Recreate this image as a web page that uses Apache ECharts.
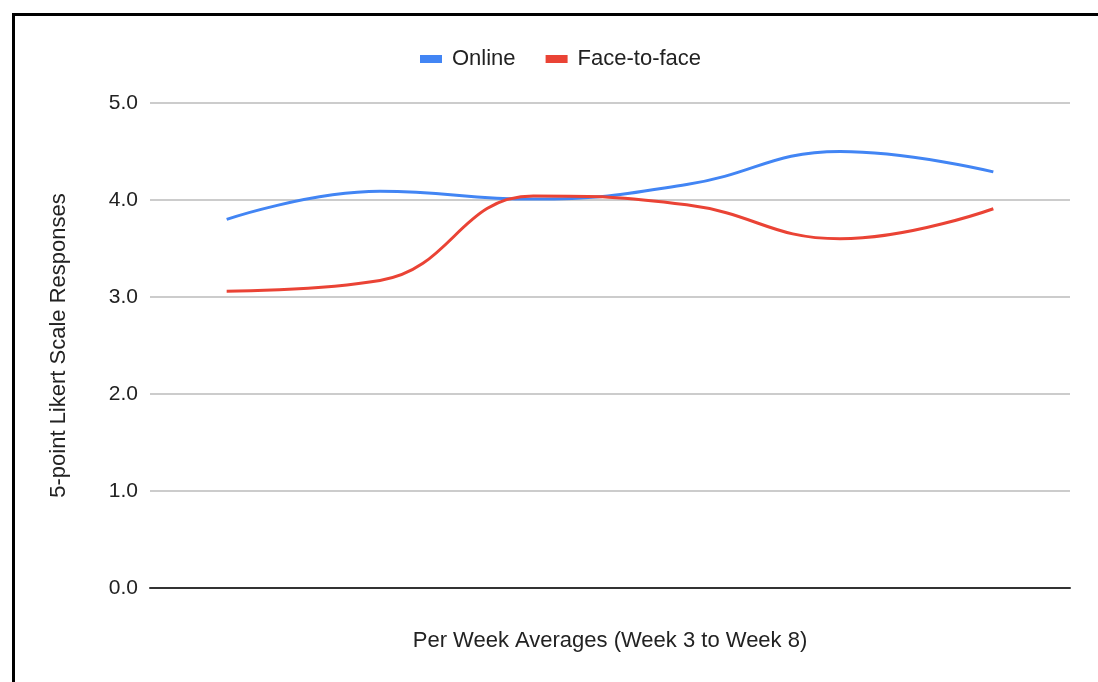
<!DOCTYPE html>
<html>
<head>
<meta charset="utf-8">
<script src="https://cdn.jsdelivr.net/npm/echarts@6/dist/echarts.min.js"></script>
<style>
	html, body { margin: 0; padding: 0; background: #fff; overflow: hidden; }
	#frame { position: absolute; left: 12px; top: 13px; width: 1200px; height: 800px; border-left: 3px solid #000; border-top: 3px solid #000; }
	#chart { position: absolute; left: 0; top: 0; width: 1098px; height: 682px; }
</style>
</head>
<body>
<div id="frame"></div>
<div id="chart"></div>
<script>
	// weeks 3..8
	var weeks = ['Week 3', 'Week 4', 'Week 5', 'Week 6', 'Week 7', 'Week 8'];
	var online = [3.80, 4.09, 4.01, 4.16, 4.50, 4.29];
	var faceToFace = [3.06, 3.17, 4.04, 3.95, 3.60, 3.91];
	var yTicks = [0, 1, 2, 3, 4, 5];

	var chart = echarts.init(document.getElementById('chart'));
	var font = 'Liberation Sans, Arial, sans-serif';

	var option = {
		animation: false,
		textStyle: { fontFamily: font },
		legend: {
			left: 415,
			top: 43,
			itemWidth: 22,
			itemHeight: 8,
			itemGap: 30,
			icon: 'rect',
			textStyle: { fontSize: 22, color: '#222', fontFamily: font, padding: [0, 0, 0, 5] },
			data: ['Online', 'Face-to-face']
		},
		grid: { left: 150, right: 28, top: 103, bottom: 94 },
		xAxis: {
			type: 'category',
			data: weeks,
			boundaryGap: true,
			name: 'Per Week Averages (Week 3 to Week 8)',
			nameLocation: 'middle',
			nameGap: 42,
			nameTextStyle: { fontSize: 22, color: '#222', fontFamily: font },
			axisLine: { lineStyle: { color: '#333', width: 2 } },
			axisTick: { show: false },
			axisLabel: { show: false }
		},
		yAxis: {
			type: 'value',
			min: yTicks[0],
			max: yTicks[yTicks.length - 1],
			interval: 1,
			name: '5-point Likert Scale Responses',
			nameLocation: 'middle',
			nameGap: 80,
			nameTextStyle: { fontSize: 22, color: '#222', fontFamily: font },
			axisLine: { show: false },
			axisTick: { show: false },
			axisLabel: {
				fontSize: 21,
				color: '#222',
				margin: 12,
				fontFamily: font,
				formatter: function (v) { return v.toFixed(1); }
			},
			splitLine: { lineStyle: { color: '#ccc', width: 2 } }
		},
		series: [
			{
				name: 'Online',
				type: 'line',
				data: online,
				smooth: 0.45,
				showSymbol: false,
				color: '#4285F4',
				lineStyle: { width: 3 }
			},
			{
				name: 'Face-to-face',
				type: 'line',
				data: faceToFace,
				smooth: 0.45,
				showSymbol: false,
				color: '#EA4335',
				lineStyle: { width: 3 }
			}
		]
	};
	chart.setOption(option);
</script>
</body>
</html>
